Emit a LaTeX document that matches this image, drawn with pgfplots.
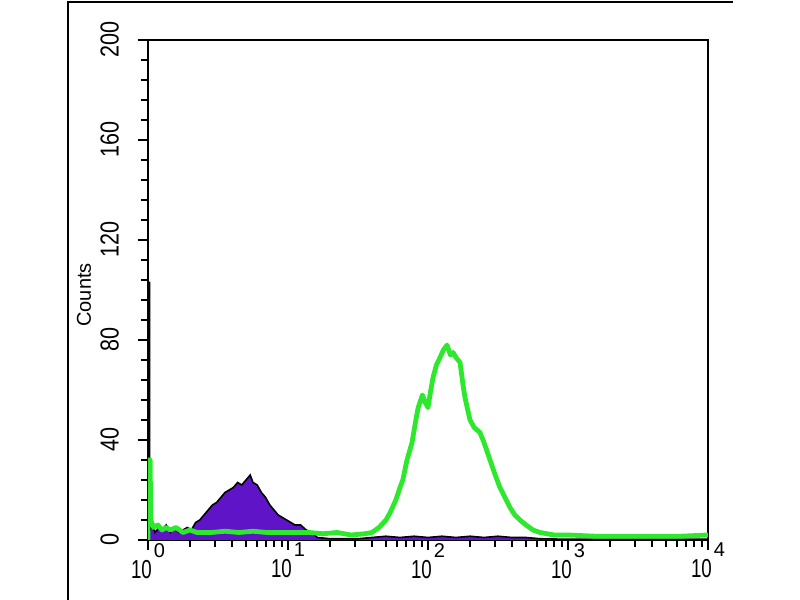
\documentclass[border=0pt]{standalone}
\usepackage{pgfplots}
\pgfplotsset{compat=1.18}
\usepackage{fontspec}
\setmainfont{Liberation Sans}
\definecolor{isopurple}{RGB}{95,20,200}
\definecolor{flgreen}{RGB}{45,232,45}
\newcommand{\dec}[1]{\scalebox{0.72}[1]{\fontsize{13}{15}\selectfont 10}\kern1pt\raisebox{10.5pt}{\fontsize{10}{12}\selectfont #1}}
\begin{document}
\begin{tikzpicture}
\useasboundingbox (0,0) rectangle (400pt,300pt);
\draw[line width=1pt] (34pt,0) -- (34pt,299pt) -- (366.5pt,299pt);
\begin{axis}[
  at={(74pt,30pt)}, anchor=south west,
  scale only axis, width=280pt, height=250pt,
  xmin=0, xmax=4, ymin=0, ymax=200,
  axis line style={line width=1.3pt},
  xtick={0,1,2,3,4},
  xticklabels={\dec{0},\dec{1},\dec{2},\dec{3},\dec{4}},
  minor xtick={0.301,0.477,0.602,0.699,0.778,0.845,0.903,0.954,
               1.301,1.477,1.602,1.699,1.778,1.845,1.903,1.954,
               2.301,2.477,2.602,2.699,2.778,2.845,2.903,2.954,
               3.301,3.477,3.602,3.699,3.778,3.845,3.903,3.954},
  ytick={0,40,80,120,160,200},
  minor y tick num=4,
  xtick pos=left, ytick pos=left,
  tick align=outside,
  major tick length=5pt, minor tick length=3.5pt,
  every tick/.style={black, line width=1pt},
  /pgf/number format/assume math mode=true,
  yticklabel={\scalebox{0.83}[1]{\pgfmathprintnumber{\tick}}},
  yticklabel style={rotate=90, anchor=south, font=\fontsize{13}{15}\selectfont, yshift=6pt},
  xticklabel style={anchor=north, yshift=7pt, xshift=0pt},
  ylabel={Counts},
  ylabel style={font=\fontsize{10}{12}\selectfont, at={(axis description cs:-0.089,0.49)}, anchor=south},
]
\addplot[fill=isopurple, draw=black, line width=0.8pt] coordinates {
(0,0) (0,103) (0.012,103) (0.012,4) (0.03,6) (0.05,3) (0.08,5) (0.1,4) (0.13,6)
(0.16,3) (0.19,5) (0.22,3) (0.25,4) (0.28,5) (0.31,4) (0.34,7) (0.37,8) (0.40,10)
(0.43,12) (0.46,14) (0.49,15) (0.52,17) (0.55,19) (0.58,20) (0.61,21) (0.64,23)
(0.67,22) (0.70,24) (0.73,26) (0.75,23) (0.78,22) (0.81,19) (0.84,17) (0.87,14)
(0.90,12) (0.93,10) (0.96,9) (0.99,8) (1.02,7) (1.05,6) (1.09,6) (1.13,4) (1.17,3)
(1.21,1) (1.3,0.5) (1.5,0.5) (1.6,1) (1.7,1.5) (1.8,1) (1.9,1.5) (2.0,1) (2.1,1.5)
(2.2,1) (2.3,1.5) (2.4,1) (2.5,1.5) (2.6,1) (2.7,1) (2.8,0.5) (3.0,0.3) (4.0,0.3) (4.0,0)
};
\addplot[draw=flgreen, line width=2.4pt, line join=round] coordinates {
(0,0) (0,32) (0.015,32) (0.02,8) (0.04,5) (0.07,6) (0.1,4) (0.13,5) (0.16,4) (0.2,5)
(0.25,3) (0.3,4) (0.35,3) (0.45,3) (0.55,3.5) (0.65,3) (0.75,3.5) (0.85,3) (0.95,3)
(1.05,3) (1.15,3) (1.25,2.5) (1.35,3) (1.45,2) (1.55,2.5) (1.6,3) (1.65,5) (1.7,8)
(1.73,11) (1.77,16) (1.80,21) (1.82,24) (1.85,32) (1.886,39) (1.91,47) (1.93,53)
(1.96,58) (1.98,55) (2.0,53) (2.02,60) (2.036,65) (2.06,70) (2.086,73) (2.11,76)
(2.136,78) (2.16,74) (2.179,75) (2.2,73) (2.229,71) (2.25,62) (2.264,57) (2.3,48)
(2.33,45) (2.371,43) (2.40,39) (2.443,32) (2.48,26) (2.514,21) (2.55,17) (2.586,13)
(2.62,10) (2.657,8) (2.7,6) (2.75,4) (2.8,3) (2.9,2) (3.0,2) (3.2,1.5) (3.5,1.5)
(3.8,1.5) (4.0,2)
};
\end{axis}
\end{tikzpicture}
\end{document}
